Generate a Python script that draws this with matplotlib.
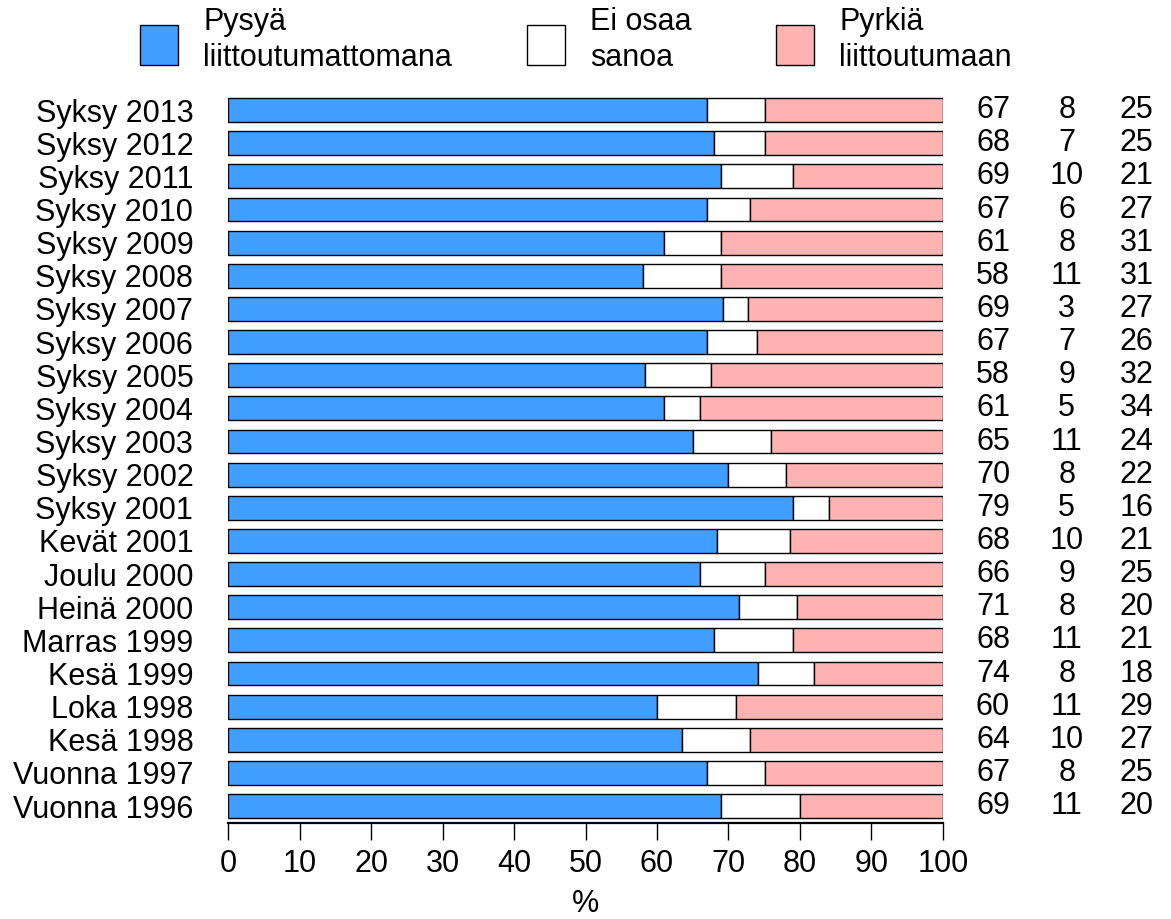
#import necessary libraries
import matplotlib
matplotlib.use("Agg")
import matplotlib.pyplot as plt
from matplotlib.patches import Rectangle

plt.rcParams['font.family'] = ['Liberation Sans', 'DejaVu Sans']

#the survey rounds, top to bottom
periods = ["Syksy 2013", "Syksy 2012", "Syksy 2011", "Syksy 2010", "Syksy 2009",
           "Syksy 2008", "Syksy 2007", "Syksy 2006", "Syksy 2005", "Syksy 2004",
           "Syksy 2003", "Syksy 2002", "Syksy 2001", "Kevät 2001", "Joulu 2000",
           "Heinä 2000", "Marras 1999", "Kesä 1999", "Loka 1998", "Kesä 1998",
           "Vuonna 1997", "Vuonna 1996"]

#bar lengths (%)
stay = [67, 68, 69, 67, 61, 58, 69.3, 67, 58.3, 61, 65, 70, 79, 68.4, 66,
        71.5, 68, 74.1, 60, 63.5, 67, 69]
dont_know = [8.1, 7.1, 10, 6, 8, 11, 3.4, 7, 9.3, 5, 11, 8, 5, 10.2, 9.1,
             8.1, 11, 7.9, 11, 9.5, 8.1, 11]

#numbers printed on the right
stay_lbl = [67, 68, 69, 67, 61, 58, 69, 67, 58, 61, 65, 70, 79, 68, 66, 71, 68, 74, 60, 64, 67, 69]
dk_lbl = [8, 7, 10, 6, 8, 11, 3, 7, 9, 5, 11, 8, 5, 10, 9, 8, 11, 8, 11, 10, 8, 11]
join_lbl = [25, 25, 21, 27, 31, 31, 27, 26, 32, 34, 24, 22, 16, 21, 25, 20, 21, 18, 29, 27, 25, 20]

legend_names = ["Pysyä\nliittoutumattomana", "Ei osaa\nsanoa", "Pyrkiä\nliittoutumaan"]
colors = ["#409eff", "#ffffff", "#ffb2b2"]

FS = 22
W, H = 1171, 919
fig = plt.figure(figsize=(W / 100, H / 100), dpi=100)
ax = fig.add_axes([228 / W, 1 - 823 / H, (943 - 228) / W, (823 - 93.5) / H])

ypos = list(range(len(periods)))
join = [100 - s - d for s, d in zip(stay, dont_know)]
left2 = [s + d for s, d in zip(stay, dont_know)]

ax.barh(ypos, stay, height=0.72, color=colors[0], edgecolor='black', linewidth=1)
ax.barh(ypos, dont_know, left=stay, height=0.72, color=colors[1], edgecolor='black', linewidth=1)
ax.barh(ypos, join, left=left2, height=0.72, color=colors[2], edgecolor='black', linewidth=1)

ax.set_xlim(0, 100)
ax.set_ylim(len(periods) - 0.49, -0.5)

#numbers on the right side
for i in ypos:
    ax.text(107, i, str(stay_lbl[i]), ha='center', va='center', fontsize=FS, clip_on=False)
    ax.text(117.3, i, str(dk_lbl[i]), ha='center', va='center', fontsize=FS, clip_on=False)
    ax.text(127.1, i, str(join_lbl[i]), ha='center', va='center', fontsize=FS, clip_on=False)

ax.set_yticks(ypos)
ax.set_yticklabels(periods, fontsize=FS)
ax.tick_params(axis='y', length=0, pad=25)
ax.set_xticks(range(0, 101, 10))
ax.tick_params(axis='x', labelsize=FS, length=12, width=1, pad=7)
ax.set_xlabel('%', fontsize=FS, labelpad=7)

for s in ['left', 'right', 'top']:
    ax.spines[s].set_visible(False)
ax.spines['bottom'].set_linewidth(1.6)

#legend drawn by hand at the top
patch_x = [140, 527, 776]
for px, name, c in zip(patch_x, legend_names, colors):
    fig.add_artist(Rectangle((px / W, 1 - 65 / H), 38 / W, 40 / H,
                             facecolor=c, edgecolor='black', linewidth=1,
                             transform=fig.transFigure))
    fig.text((px + 63) / W, 1 - 40 / H, name, ha='left', va='center',
             fontsize=FS, linespacing=1.3)

fig.savefig('out.png', dpi=100)
